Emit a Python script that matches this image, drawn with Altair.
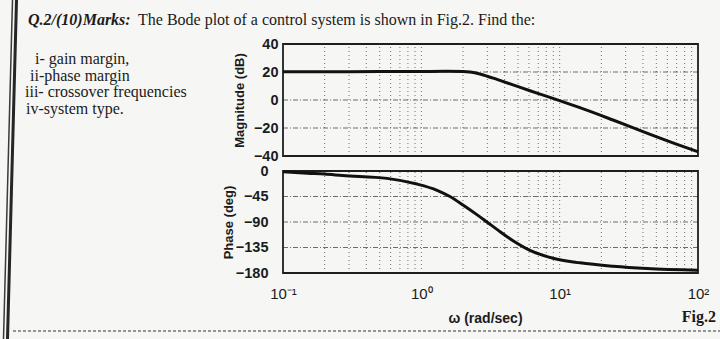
import json
import altair as alt
import pandas as pd

# ---------------- data ----------------
mag_w = [0.1, 0.2, 0.5, 1.0, 1.5, 2.0, 2.25, 2.65, 3.0, 3.52, 4.6, 6.1, 8.1, 10, 14, 24.3, 42.7, 74, 100]
mag_db = [20.2, 20.2, 20.3, 20.4, 20.5, 20.4, 20.0, 18.6, 17.0, 14.7, 10.8, 6.6, 2.6, -0.5, -5.5, -14.3, -23.6, -32.4, -37.0]

ph_w = [0.1, 0.15, 0.2, 0.27, 0.565, 0.93, 1.3, 1.61, 2.0, 2.52, 2.98, 3.52, 4.6, 6.1, 8.96, 14, 24.3, 42.7, 100]
ph_deg = [-1.5, -4, -5.5, -8, -13, -23, -34, -45, -60, -77, -90, -103, -123, -140, -154, -162, -168, -172, -175]

grid_w = [0.2, 0.3, 0.4, 0.5, 0.6, 0.7, 0.8, 0.9, 1, 2, 3, 4, 5, 6, 7, 8, 9, 10,
          20, 30, 40, 50, 60, 70, 80, 90]
mag_grid = [20, 0, -20]
ph_grid = [-45, -90, -135]

w_domain = [0.1, 100]
mag_domain = [-40, 40]
ph_domain = [-180, 0]

mag_ticks = [40, 20, 0, -20, -40]
ph_ticks = [0, -45, -90, -135, -180]
x_ticks = [0.1, 1, 10, 100]
x_tick_labels = ["10\u207b\u00b9\u2007", "10\u2070\u2007", "10\u00b9\u2007", "10\u00b2\u2007"]

header_bold = "Q.2/(10)Marks:"
header_text = "The Bode plot of a control system is shown in Fig.2. Find the:"
items = ["i- gain margin,", "ii-phase margin", "iii- crossover frequencies", "iv-system type."]
fig_label = "Fig.2"
mag_title = "Magnitude (dB)"
ph_title = "Phase (deg)"
x_title = "\u03c9 (rad/sec)"

# ---------------- layout ----------------
W, H = 415, 229
MAG_RANGE = [112, 0]
PH_RANGE = [229, 127]
INK = "#1b1b1b"
SANS = "Liberation Sans"
SERIF = "Liberation Serif"

xs = alt.Scale(type="log", domain=w_domain, nice=False)
mag_s = alt.Scale(domain=mag_domain, range=MAG_RANGE, nice=False, zero=False)
ph_s = alt.Scale(domain=ph_domain, range=PH_RANGE, nice=False, zero=False)

label_expr = json.dumps(x_tick_labels, ensure_ascii=False) + "[round(log(datum.value)/LN10)+1]"

x_axis = alt.Axis(orient="bottom", values=x_ticks, labelExpr=label_expr, ticks=False, domain=False,
                  grid=False, labelPadding=13, labelFlush=False, labelOverlap=False,
                  labelFont=SANS, labelFontSize=15, labelColor=INK,
                  title=x_title, titleFont=SANS, titleFontSize=14, titleFontWeight="bold",
                  titleColor=INK, titleX=202, titleY=45, titleBaseline="middle")


def y_axis(values, title, pad, tx):
    return alt.Axis(orient="left", values=values, ticks=False, domain=False, grid=False,
                    labelPadding=pad, labelFlush=False, labelOverlap=False,
                    labelFont=SANS, labelFontSize=14.5, labelFontWeight="bold", labelColor=INK,
                    title=title, titleFont=SANS, titleFontSize=13, titleFontWeight="bold",
                    titleColor=INK, titleX=tx, titleBaseline="middle")


mag_axis = y_axis(mag_ticks, mag_title, 5, -44)
ph_axis = y_axis(ph_ticks, ph_title, 15, -55)


def panel(curve_w, curve_v, hgrid, dom, yscale, yaxis):
    vg = pd.DataFrame({"w": grid_w, "lo": dom[0], "hi": dom[1]})
    hg = pd.DataFrame({"v": hgrid, "w0": w_domain[0], "w1": w_domain[1]})
    box = pd.DataFrame({"w0": [w_domain[0]], "w1": [w_domain[1]], "lo": [dom[0]], "hi": [dom[1]]})
    cur = pd.DataFrame({"w": curve_w, "v": curve_v})
    l_vg = alt.Chart(vg).mark_rule(color="#444", strokeWidth=1, strokeDash=[1, 3], opacity=0.75).encode(
        x=alt.X("w:Q", scale=xs, axis=x_axis),
        y=alt.Y("lo:Q", scale=yscale, axis=yaxis), y2="hi:Q")
    l_hg = alt.Chart(hg).mark_rule(color="#555", strokeWidth=1, strokeDash=[5, 2, 1, 2], opacity=0.85).encode(
        x=alt.X("w0:Q", scale=xs, axis=x_axis), x2="w1:Q",
        y=alt.Y("v:Q", scale=yscale, axis=yaxis))
    l_box = alt.Chart(box).mark_rect(fillOpacity=0, stroke="#1e1e1e", strokeWidth=1.8).encode(
        x=alt.X("w0:Q", scale=xs, axis=x_axis), x2="w1:Q",
        y=alt.Y("lo:Q", scale=yscale, axis=yaxis), y2="hi:Q")
    l_cur = alt.Chart(cur).mark_line(color="#111", strokeWidth=3, interpolate="monotone").encode(
        x=alt.X("w:Q", scale=xs, axis=x_axis),
        y=alt.Y("v:Q", scale=yscale, axis=yaxis))
    return alt.layer(l_vg, l_hg, l_box, l_cur)


mag_layer = panel(mag_w, mag_db, mag_grid, mag_domain, mag_s, mag_axis)
ph_layer = panel(ph_w, ph_deg, ph_grid, ph_domain, ph_s, ph_axis)


def txt(s, x, y, font=SERIF, size=16, weight="normal", style="normal", align="left"):
    return alt.Chart(pd.DataFrame({"t": [s]})).mark_text(
        align=align, baseline="alphabetic", font=font, fontSize=size, fontWeight=weight,
        fontStyle=style, color=INK).encode(text="t:N", x=alt.value(x), y=alt.value(y))


texts = [
    txt(header_bold, -255, -19, weight="bold", style="italic"),
    txt(header_text, -145, -19),
]
item_x = [-248, -253, -258, -257]
item_y = [20, 36.5, 53, 70]
for s, xx, yy in zip(items, item_x, item_y):
    texts.append(txt(s, xx, yy))
texts.append(txt(fig_label, 433, 278, weight="bold", align="right"))

one = pd.DataFrame({"a": [0]})
bar_thick = alt.Chart(one).mark_rule(color="#262626", strokeWidth=3).encode(
    x=alt.value(-266.5), x2=alt.value(-275.5), y=alt.value(-44), y2=alt.value(295))
bar_thin = alt.Chart(one).mark_rule(color="#3a3a3a", strokeWidth=1.5).encode(
    x=alt.value(-270.5), x2=alt.value(-279.5), y=alt.value(-44), y2=alt.value(295))
bottom_dash = alt.Chart(one).mark_rule(color="#333", strokeWidth=1.2, strokeDash=[3, 2]).encode(
    x=alt.value(-270), x2=alt.value(437), y=alt.value(287))

chart = alt.layer(bar_thick, bar_thin, bottom_dash, mag_layer, ph_layer, *texts).resolve_scale(
    y="independent"
).properties(
    width=W, height=H,
    autosize=alt.AutoSizeParams(type="none"),
    padding={"left": 283, "top": 44, "right": 22, "bottom": 66},
    background="#f6f6f4",
).configure_view(strokeWidth=0)

chart.save("out.html", embed_options={"renderer": "svg", "actions": False})
